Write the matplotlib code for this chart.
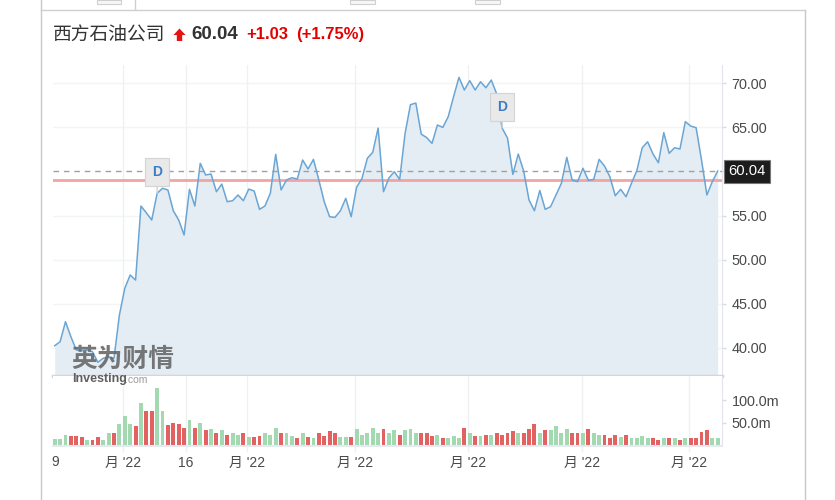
import numpy as np
import matplotlib
matplotlib.use("Agg")
import matplotlib.pyplot as plt
from matplotlib.patches import Polygon, Rectangle

plt.rcParams['font.family'] = ['Liberation Sans', 'Noto Sans CJK SC', 'DejaVu Sans']

# --- data ---
name = "西方石油公司"
last_price = 60.04
prev_close = 59.01
change_txt = "+1.03"
change_pct_txt = "(+1.75%)"

price = [40.23, 40.68, 42.95, 41.25, 39.74, 39.66, 39.74, 39.55, 38.35, 38.80,
         38.98, 38.80, 43.71, 46.74, 48.25, 47.68, 56.08, 55.30, 54.49, 57.52,
         58.09, 57.90, 55.54, 54.49, 52.79, 57.97, 56.08, 60.92, 59.60, 59.71,
         57.70, 58.57, 56.57, 56.68, 57.33, 56.68, 58.00, 57.78, 55.70, 56.08,
         57.52, 61.94, 57.90, 59.03, 59.29, 59.14, 61.30, 60.28, 61.37, 59.03,
         56.57, 54.86, 54.79, 55.54, 56.95, 54.86, 58.20, 59.20, 61.49, 62.17,
         64.92, 57.70, 59.25, 59.97, 59.10, 64.30, 67.58, 67.76, 64.23, 63.85,
         63.19, 65.27, 65.00, 66.21, 68.48, 70.68, 69.24, 70.30, 69.24, 70.18,
         69.50, 70.37, 68.80, 64.93, 63.80, 59.67, 61.98, 60.05, 56.76, 55.54,
         57.84, 55.70, 56.00, 57.33, 58.65, 61.60, 59.03, 58.84, 60.36, 59.00,
         59.10, 61.37, 60.62, 59.40, 57.25, 57.97, 57.13, 58.65, 60.09, 62.69,
         63.37, 61.98, 60.99, 64.40, 62.06, 62.69, 62.55, 65.65, 65.15, 64.96,
         61.30, 57.33, 58.84, 60.04]

# volume in millions
volume = [14, 14, 22, 20, 20, 17, 12, 12, 17, 12, 28, 28, 47, 66, 48, 42, 95, 77, 77, 128,
          77, 45, 49, 48, 39, 55, 39, 49, 34, 36, 26, 34, 22, 26, 22, 28, 17, 17, 20, 26,
          22, 39, 26, 26, 21, 16, 28, 17, 16, 28, 21, 31, 26, 17, 17, 17, 36, 22, 26, 39,
          28, 36, 28, 34, 22, 34, 36, 26, 26, 26, 20, 22, 16, 16, 20, 16, 39, 26, 20, 20,
          22, 22, 26, 22, 26, 31, 28, 28, 36, 47, 28, 34, 34, 43, 26, 36, 28, 26, 26, 36,
          28, 22, 22, 15, 22, 17, 22, 16, 16, 20, 15, 15, 12, 16, 16, 15, 12, 16, 15, 15,
          30, 34, 16, 15]

dividend_idx = [19, 83]

tick_pos = [12.7, 24.3, 35.6, 55.7, 76.6, 97.8, 117.7]
tick_labels = ["月 '22", "16", "月 '22", "月 '22", "月 '22", "月 '22", "月 '22"]
price_ticks = [40, 45, 50, 55, 60, 65, 70]
vol_ticks = [50, 100]

# --- layout helpers (pixel based) ---
W, H = 835, 500
fig = plt.figure(figsize=(W / 100, H / 100), dpi=100)

def fx(x):
    return x / W

def fy(y):
    return 1 - y / H

idx = np.arange(len(price))
price = np.array(price)
volume = np.array(volume)
up = np.concatenate([[True], np.diff(price) >= 0])

LINE = '#6aa5d4'
FILL = '#e4ecf4'
GRID = '#eef0f4'
TXT = '#4a4a4a'
GREEN = '#a3d9b1'
RED = '#e26262'

# price panel
ax = fig.add_axes([fx(53), fy(376), fx(722 - 53), (376 - 65) / H])
ylo, yhi = 36.79, 72.08
ax.set_xlim(-0.32, 123.8)
ax.set_ylim(ylo, yhi)
for v in price_ticks:
    if v != 60:
        ax.axhline(v, color='#f3f4f7', lw=1, zorder=0)
for t in tick_pos:
    ax.axvline(t, color=GRID, lw=1, zorder=0)
ax.fill_between(idx, price, ylo, color=FILL, zorder=1, lw=0)
ax.plot(idx, price, color=LINE, lw=1.1, zorder=3)
ax.axhline(last_price, color='#a0a0a0', lw=1, ls=(0, (4, 3.5)), zorder=2)
ax.axhline(prev_close, color='#f2a3a3', lw=2, zorder=2)

ax.yaxis.tick_right()
ax.set_yticks(price_ticks)
ax.set_yticklabels([f"{v:.2f}" if v != 60 else "" for v in price_ticks])
ax.tick_params(axis='y', length=3, width=1, color='#d8dbe2', labelsize=10.4,
               labelcolor=TXT, pad=4)
ax.set_xticks([])
for s in ['top', 'left']:
    ax.spines[s].set_visible(False)
ax.spines['right'].set_color('#e2e5ec')
ax.spines['bottom'].set_color('#d6d6d6')
ax.spines['bottom'].set_linewidth(2.5)

# last price box
ax.text(1.0 + 6 / (722 - 53), last_price, f"{last_price:.2f}", transform=ax.get_yaxis_transform(),
        ha='left', va='center', fontsize=10.6, color='white',
        bbox=dict(boxstyle='square,pad=0.3', fc='#1c1c1c', ec='#777', lw=0.8), zorder=10,
        clip_on=False)

# dividend markers
for d in dividend_idx:
    ax.annotate("D", xy=(d, price[d]), xytext=(0, 21), textcoords='offset pixels',
                ha='center', va='center', fontsize=10, fontweight='bold', color='#3a7cc6',
                bbox=dict(boxstyle='square,pad=0.5', fc='#e9e9e9', ec='#d4d4d4', lw=0.8),
                arrowprops=dict(arrowstyle='-', color='#d0d0d0', lw=1, shrinkA=0, shrinkB=0),
                zorder=8)

# watermark
fig.text(fx(71), fy(359), "英为财情", fontsize=18.5, fontweight='bold', color='#686868',
         family=['Noto Sans CJK SC'], ha='left', va='center', alpha=0.9, zorder=9)
fig.text(fx(72), fy(379), "Investing", fontsize=9, fontweight='bold', color='#5f5f5f',
         ha='left', va='center', zorder=9)
fig.text(fx(125), fy(380), ".com", fontsize=7.5, color='#9a9a9a',
         ha='left', va='center', zorder=9)

# volume panel
axv = fig.add_axes([fx(53), fy(446), fx(722 - 53), (446 - 376) / H])
axv.set_xlim(-0.32, 123.8)
axv.set_ylim(-2.2, 154.7)
for t in tick_pos:
    axv.axvline(t, color=GRID, lw=1, zorder=0)
axv.bar(idx, volume, width=0.72, color=np.where(up, GREEN, RED), zorder=2)
axv.yaxis.tick_right()
axv.set_yticks(vol_ticks)
axv.set_yticklabels([f"{v:.1f}m" for v in vol_ticks])
axv.tick_params(axis='y', length=3, width=1, color='#d8dbe2', labelsize=10.4,
                labelcolor=TXT, pad=4)
axv.set_xticks(tick_pos)
axv.set_xticklabels(tick_labels)
axv.tick_params(axis='x', length=4, width=1, color=GRID, labelsize=10,
                labelcolor=TXT, pad=3)
for s in ['top', 'left']:
    axv.spines[s].set_visible(False)
axv.spines['right'].set_color('#e2e5ec')
axv.spines['bottom'].set_color('#e6e9ef')
axv.spines['bottom'].set_linewidth(1.5)
fig.text(fx(55), fy(462), "9", fontsize=10, color=TXT, ha='center', va='center')

# header
fig.text(fx(53), fy(34), name, fontsize=13.5, color='#333333', family=['Noto Sans CJK SC'],
         ha='left', va='center')
arrow = [(179.5, 28.5), (185.5, 35), (182.2, 35), (182.2, 41), (176.8, 41), (176.8, 35), (173.5, 35)]
fig.patches.append(Polygon([(fx(x), fy(y)) for x, y in arrow], closed=True, fc='#e31414',
                           ec='none', transform=fig.transFigure))
fig.text(fx(191), fy(34), f"{last_price:.2f}", fontsize=13.5, fontweight='bold', color='#333333',
         ha='left', va='center')
fig.text(fx(246), fy(34), change_txt, fontsize=12, fontweight='bold', color='#e30000',
         ha='left', va='center')
fig.text(fx(296), fy(34), change_pct_txt, fontsize=12, fontweight='bold', color='#e30000',
         ha='left', va='center')

# page frame bits
fig.add_artist(plt.Line2D([fx(40.5), fx(40.5)], [0, 1], color='#c8c8c8', lw=1))
fig.add_artist(plt.Line2D([fx(805), fx(805)], [0, fy(9.5)], color='#c8c8c8', lw=1))
fig.add_artist(plt.Line2D([fx(40.5), fx(805)], [fy(9.5), fy(9.5)], color='#cfcfcf', lw=1))
for x0, x1 in [(97, 121), (350, 375), (475, 500)]:
    fig.patches.append(Rectangle((fx(x0), fy(4)), fx(x1 - x0), 4 / H, fc='#f7f7f7',
                                 ec='#cfcfcf', lw=0.8, transform=fig.transFigure))
fig.add_artist(plt.Line2D([fx(134.5), fx(134.5)], [fy(9), 1], color='#cfcfcf', lw=1))

fig.savefig("out.png", dpi=100)
